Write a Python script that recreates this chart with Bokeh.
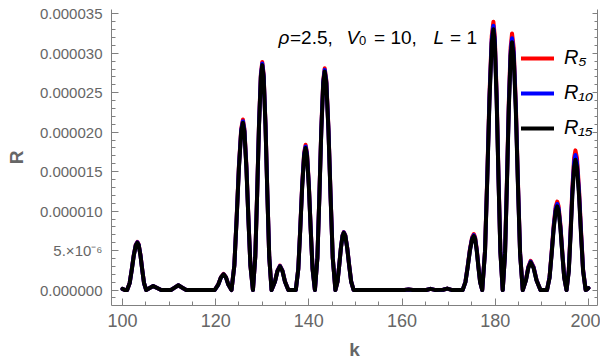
from bokeh.plotting import figure
from bokeh.models import (Range1d, FixedTicker, LinearAxis, CustomJSTickFormatter,
                          Legend, LegendItem, Label, ColumnDataSource)
from bokeh.embed import file_html
from bokeh.resources import INLINE

# ---- data (R values read in units of 1e-6) ----
k = [100.0, 100.5, 101.0, 101.55, 101.99, 102.43, 102.87, 103.2, 103.49, 103.87, 104.25, 104.63, 105.1,
     105.85, 106.6, 107.45, 108.3, 110.4, 111.2, 112.0, 112.85, 113.7, 119.8,
     120.56, 121.13, 121.7, 122.21, 122.72, 123.4,
     124.01, 124.50, 124.99, 125.48, 125.85, 126.17, 126.60, 127.03, 127.46, 128.0,
     128.5, 128.9, 129.3, 129.7, 130.0, 130.3, 130.7, 131.1, 131.5, 132.0,
     132.72, 133.26, 133.8, 134.34, 134.88, 135.6, 137.2,
     137.73, 138.15, 138.57, 138.99, 139.3, 139.6, 140.0, 140.4, 140.8, 141.3,
     141.83, 142.25, 142.67, 143.09, 143.4, 143.75, 144.21, 144.67, 145.13, 145.7,
     146.15, 146.51, 146.87, 147.23, 147.5, 147.82, 148.24, 148.66, 149.08, 149.6,
     155.0, 160.5, 161.4, 162.3, 165.2, 166.1, 167.0, 168.8, 169.7, 170.6, 173.0,
     173.6, 174.08, 174.56, 175.04, 175.4, 175.67, 176.03, 176.39, 176.75, 177.2,
     177.8, 178.28, 178.76, 179.24, 179.6, 179.9, 180.3, 180.7, 181.1, 181.6,
     182.1, 182.5, 182.9, 183.3, 183.6, 183.95, 184.41, 184.87, 185.33, 185.9,
     186.58, 187.09, 187.6, 188.23, 188.86, 189.7, 191.1,
     191.65, 192.09, 192.53, 192.97, 193.3, 193.6, 194.0, 194.4, 194.8, 195.3,
     195.78, 196.16, 196.54, 196.92, 197.2, 197.53, 197.97, 198.41, 198.85, 199.4, 199.7, 200.0]

R5_e6 = [0.15, 0, 0, 0.89, 2.57, 4.43, 5.77, 6.10, 5.77, 4.43, 2.57, 0.89, 0,
         0.25, 0.5, 0.25, 0, 0, 0.3, 0.6, 0.3, 0, 0,
         0.71, 1.63, 2.05, 1.63, 0.71, 0,
         3.15, 9.11, 15.70, 20.43, 21.60, 20.43, 15.70, 9.11, 3.15, 0,
         4.22, 12.20, 21.01, 27.34, 28.90, 27.34, 21.01, 12.20, 4.22, 0,
         1.07, 2.46, 3.10, 2.46, 1.07, 0, 0,
         2.69, 7.76, 13.38, 17.41, 18.40, 17.41, 13.38, 7.76, 2.69, 0,
         4.10, 11.86, 20.43, 26.58, 28.10, 26.58, 20.43, 11.86, 4.10, 0,
         1.07, 3.10, 5.34, 6.95, 7.35, 6.95, 5.34, 3.10, 1.07, 0,
         0, 0, 0.08, 0, 0, 0.15, 0.02, 0.03, 0.18, 0.02, 0,
         1.04, 2.99, 5.16, 6.71, 7.10, 6.71, 5.16, 2.99, 1.04, 0,
         4.96, 14.35, 24.72, 32.16, 34.00, 32.16, 24.72, 14.35, 4.96, 0,
         4.75, 13.72, 23.63, 30.75, 32.50, 30.75, 23.63, 13.72, 4.75, 0,
         1.28, 2.94, 3.70, 2.94, 1.28, 0, 0,
         1.64, 4.73, 8.14, 10.60, 11.20, 10.60, 8.14, 4.73, 1.64, 0,
         2.58, 7.47, 12.87, 16.74, 17.70, 16.74, 12.87, 7.47, 2.58, 0, 0.08, 0.25]

R10_e6 = [0.15, 0, 0, 0.88, 2.55, 4.40, 5.72, 6.05, 5.72, 4.40, 2.55, 0.88, 0,
          0.25, 0.5, 0.25, 0, 0, 0.3, 0.6, 0.3, 0, 0,
          0.69, 1.59, 2.00, 1.59, 0.69, 0,
          3.12, 9.03, 15.56, 20.24, 21.40, 20.24, 15.56, 9.03, 3.12, 0,
          4.19, 12.11, 20.86, 27.15, 28.70, 27.15, 20.86, 12.11, 4.19, 0,
          1.05, 2.42, 3.05, 2.42, 1.05, 0, 0,
          2.66, 7.68, 13.23, 17.22, 18.20, 17.22, 13.23, 7.68, 2.66, 0,
          4.07, 11.77, 20.28, 26.39, 27.90, 26.39, 20.28, 11.77, 4.07, 0,
          1.07, 3.08, 5.31, 6.91, 7.30, 6.91, 5.31, 3.08, 1.07, 0,
          0, 0, 0.08, 0, 0, 0.15, 0.02, 0.03, 0.18, 0.02, 0,
          1.01, 2.93, 5.05, 6.57, 6.95, 6.57, 5.05, 2.93, 1.01, 0,
          4.89, 14.14, 24.35, 31.69, 33.50, 31.69, 24.35, 14.14, 4.89, 0,
          4.66, 13.46, 23.19, 30.18, 31.90, 30.18, 23.19, 13.46, 4.66, 0,
          1.24, 2.86, 3.60, 2.86, 1.24, 0, 0,
          1.59, 4.60, 7.92, 10.31, 10.90, 10.31, 7.92, 4.60, 1.59, 0,
          2.50, 7.22, 12.43, 16.18, 17.10, 16.18, 12.43, 7.22, 2.50, 0, 0.08, 0.25]

R15_e6 = [0.15, 0, 0, 0.88, 2.53, 4.36, 5.68, 6.00, 5.68, 4.36, 2.53, 0.88, 0,
          0.25, 0.5, 0.25, 0, 0, 0.3, 0.6, 0.3, 0, 0,
          0.69, 1.59, 2.00, 1.59, 0.69, 0,
          3.10, 8.95, 15.41, 20.06, 21.20, 20.06, 15.41, 8.95, 3.10, 0,
          4.16, 12.03, 20.72, 26.96, 28.50, 26.96, 20.72, 12.03, 4.16, 0,
          1.04, 2.38, 3.00, 2.38, 1.04, 0, 0,
          2.63, 7.60, 13.09, 17.03, 18.00, 17.03, 13.09, 7.60, 2.63, 0,
          4.04, 11.69, 20.14, 26.20, 27.70, 26.20, 20.14, 11.69, 4.04, 0,
          1.06, 3.06, 5.27, 6.86, 7.25, 6.86, 5.27, 3.06, 1.06, 0,
          0, 0, 0.08, 0, 0, 0.15, 0.02, 0.03, 0.18, 0.02, 0,
          1.00, 2.89, 4.98, 6.48, 6.85, 6.48, 4.98, 2.89, 1.00, 0,
          4.83, 13.95, 24.03, 31.27, 33.05, 31.27, 24.03, 13.95, 4.83, 0,
          4.58, 13.25, 22.83, 29.70, 31.40, 29.70, 22.83, 13.25, 4.58, 0,
          1.21, 2.78, 3.50, 2.78, 1.21, 0, 0,
          1.55, 4.47, 7.71, 10.03, 10.60, 10.03, 7.71, 4.47, 1.55, 0,
          2.41, 6.96, 12.00, 15.61, 16.50, 15.61, 12.00, 6.96, 2.41, 0, 0.08, 0.25]

series_labels = ["R₅", "R₁₀", "R₁₅"]
series_colors = ["#ff0000", "#0000ff", "#000000"]

x_ticks = [100, 120, 140, 160, 180, 200]
x_minor = [105, 110, 115, 125, 130, 135, 145, 150, 155, 165, 170, 175, 185, 190, 195]
y_ticks = [0, 5e-6, 10e-6, 15e-6, 20e-6, 25e-6, 30e-6, 35e-6]
y_minor = [i * 1e-6 for i in range(-1, 36) if i % 5 != 0]

SCALE = 1e-6
src = ColumnDataSource(dict(
    k=k,
    r5=[v * SCALE for v in R5_e6],
    r10=[v * SCALE for v in R10_e6],
    r15=[v * SCALE for v in R15_e6],
))

FONT = "Liberation Sans"
GRAY_TXT = "#666666"
GRAY_LN = "#808080"

p = figure(width=600, height=364,
           x_range=Range1d(97.65, 201.94), y_range=Range1d(-1.96e-6, 35.55e-6),
           output_backend="svg", toolbar_location=None,
           min_border_left=111, min_border_right=3, min_border_top=9, min_border_bottom=59,
           x_axis_label="k", y_axis_label="R")
p.outline_line_color = None
p.grid.visible = False
p.background_fill_color = "white"

p.xaxis[0].ticker = FixedTicker(ticks=x_ticks, minor_ticks=x_minor)
p.yaxis[0].ticker = FixedTicker(ticks=y_ticks, minor_ticks=y_minor)
p.yaxis[0].formatter = CustomJSTickFormatter(code="""
    const v = Math.round(tick * 1e7) / 10;
    if (Math.abs(v - 5) < 1e-6) { return "5.\u00d710\u207b\u2076"; }
    return Math.abs(tick).toFixed(6);
""")

for ax in (p.xaxis[0], p.yaxis[0]):
    ax.axis_line_color = GRAY_LN
    ax.major_tick_line_color = GRAY_LN
    ax.minor_tick_line_color = GRAY_LN
    ax.major_tick_in = 7
    ax.major_tick_out = 0
    ax.minor_tick_in = 4
    ax.minor_tick_out = 0
    ax.major_label_text_color = GRAY_TXT
    ax.major_label_text_font = FONT
    ax.axis_label_text_color = GRAY_TXT
    ax.axis_label_text_font = FONT
    ax.axis_label_text_font_style = "bold"
    ax.axis_label_text_font_size = "19px"

p.xaxis[0].major_label_text_font_size = "18px"
p.xaxis[0].major_label_standoff = 8
p.xaxis[0].axis_label_standoff = 9
p.yaxis[0].major_label_text_font_size = "15px"
p.yaxis[0].major_label_standoff = 9
p.yaxis[0].axis_label_standoff = 10

right = LinearAxis(ticker=FixedTicker(ticks=y_ticks, minor_ticks=y_minor),
                   formatter=CustomJSTickFormatter(code="return '';"),
                   axis_line_color=GRAY_LN, major_tick_line_color=GRAY_LN,
                   minor_tick_line_color=GRAY_LN, major_tick_in=5, major_tick_out=0,
                   minor_tick_in=3, minor_tick_out=0, major_label_standoff=0)
p.add_layout(right, "right")

cols = ["r5", "r10", "r15"]
renderers = []
for c, col in zip(cols, series_colors):
    r = p.line("k", c, source=src, line_color=col, line_width=4, line_join="round", line_cap="round")
    renderers.append(r)

legend = Legend(items=[LegendItem(label=lab, renderers=[r]) for lab, r in zip(series_labels, renderers)],
                location=(410, 166), border_line_color=None, background_fill_alpha=0,
                glyph_width=33, glyph_height=20, label_height=20, spacing=12,
                padding=0, margin=0, label_standoff=10,
                label_text_font=FONT, label_text_font_style="italic", label_text_font_size="20px",
                label_text_color="black")
p.add_layout(legend)

# annotation text: rho=2.5, V0 = 10, L = 1
base_y = 32.0e-6
sub_y = 31.62e-6
pieces = [
    (133.49, base_y, "ρ", "italic", "19px"),
    (135.95, base_y, "=2.5, ", "normal", "19px"),
    (148.08, base_y, "V", "italic", "19px"),
    (150.75, sub_y, "0", "normal", "13px"),
    (154.0, base_y, "= 10, ", "normal", "19px"),
    (166.75, base_y, "L", "italic", "19px"),
    (170.3, base_y, "= 1", "normal", "19px"),
]
for x, y, t, st, sz in pieces:
    p.add_layout(Label(x=x, y=y, text=t, text_font=FONT, text_font_style=st,
                       text_font_size=sz, text_color="black", text_baseline="alphabetic",
                       text_align="left"))

open("out.html", "w").write(file_html(p, INLINE))
